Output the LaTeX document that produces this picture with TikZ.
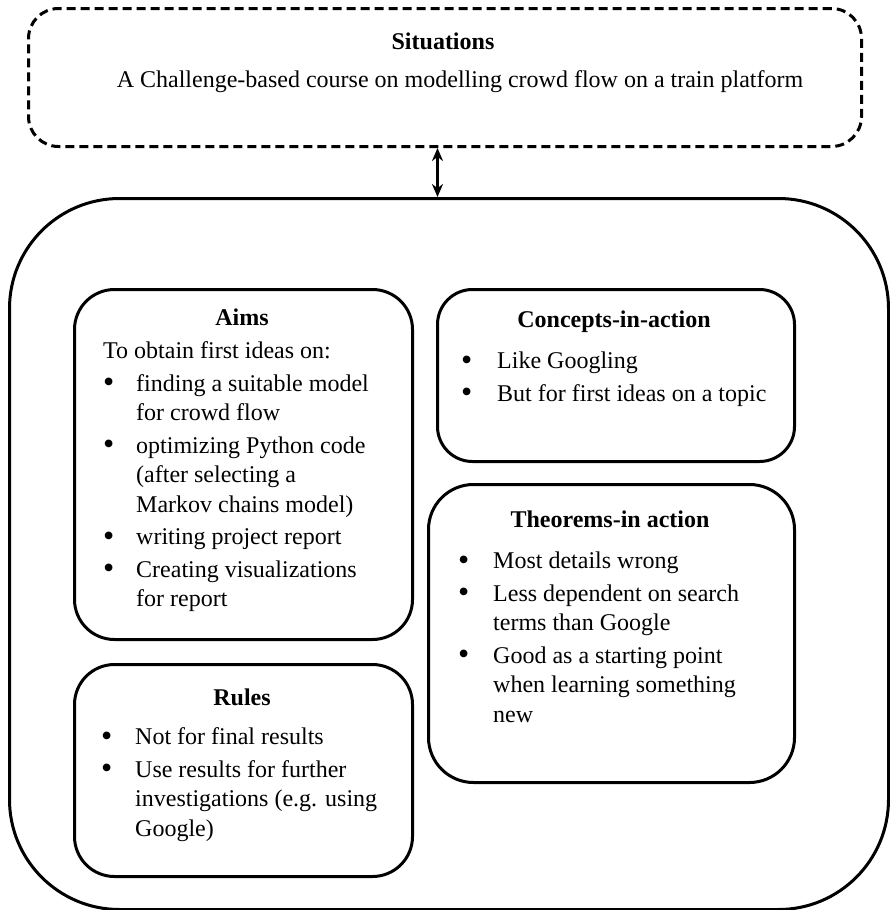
\documentclass[tikz,border=0pt]{standalone}
\usepackage{fontspec}
\setmainfont{Liberation Serif}
\usetikzlibrary{arrows.meta}
\newcommand{\txtsize}{\fontsize{24}{29.5}\selectfont}
\newcommand{\bul}{\raisebox{-1.5pt}{\fontsize{32}{29.5}\selectfont\textbullet}}
\tikzset{
  card/.style={draw,line width=3pt,rounded corners=#1,inner sep=0pt,anchor=north west},
  card/.default=40pt,
  head/.style={font=\txtsize\bfseries,anchor=base,inner sep=0pt},
  body/.style={anchor=north west,inner sep=0pt,align=left}
}
\newcommand{\gap}{\\[3pt]}

\begin{document}
\begin{tikzpicture}[x=1pt,y=-1pt,font=\txtsize]
\useasboundingbox (0,0) rectangle (889,910);
\node[card=30pt,dash pattern=on 9pt off 5pt,minimum width=833pt,minimum height=138pt] (sit) at (27,7) {};
\node[head] (sithead) at (443,49) {Situations};
\node[anchor=base,inner sep=0pt] (sittext) at (460,87) {A Challenge-based course on modelling crowd flow on a train platform};
\node[card=110pt,minimum width=879pt,minimum height=711pt] (ctx) at (8,197) {};
\draw[line width=3pt,{Stealth[length=13pt,width=11pt]}-{Stealth[length=13pt,width=11pt]}] ([xshift=-7.5pt]sit.south) -- ([xshift=-7.5pt]sit.south |- ctx.north);
\node[card,minimum width=338pt,minimum height=350pt] (aims) at (73,288) {};
\node[head] (aimshead) at (242,325) {Aims};
\node[body] (aimstext) at (103,338) {\begin{tabular}{@{}p{33pt}@{}l@{}}
\multicolumn{2}{@{}l@{}}{To obtain first ideas on:}\gap
\bul & finding a suitable model\\
 & for crowd flow\gap
\bul & optimizing Python code\\
 & (after selecting a\\
 & Markov chains model)\gap
\bul & writing project report\gap
\bul & Creating visualizations\\
 & for report
\end{tabular}};
\node[card=35pt,minimum width=357pt,minimum height=172pt] (conc) at (436,288) {};
\node[head] (conchead) at (614,327) {Concepts-in-action};
\node[body] (conctext) at (461,348) {\begin{tabular}{@{}p{36pt}@{}l@{}}
\bul & Like Googling\gap
\bul & But for first ideas on a topic
\end{tabular}};
\node[card=45pt,minimum width=366pt,minimum height=298pt] (thm) at (427,483) {};
\node[head] (thmhead) at (610,527) {Theorems-in action};
\node[body] (thmtext) at (458,548) {\begin{tabular}{@{}p{35pt}@{}l@{}}
\bul & Most details wrong\gap
\bul & Less dependent on search\\
 & terms than Google\gap
\bul & Good as a starting point\\
 & when learning something\\
 & new
\end{tabular}};
\node[card,minimum width=338pt,minimum height=212pt] (rules) at (73,663) {};
\node[head] (ruleshead) at (242,705) {Rules};
\node[body] (rulestext) at (101,724) {\begin{tabular}{@{}p{34pt}@{}l@{}}
\bul & Not for final results\gap
\bul & Use results for further\\
 & investigations (e.g. using\\
 & Google)
\end{tabular}};
\end{tikzpicture}
\end{document}
